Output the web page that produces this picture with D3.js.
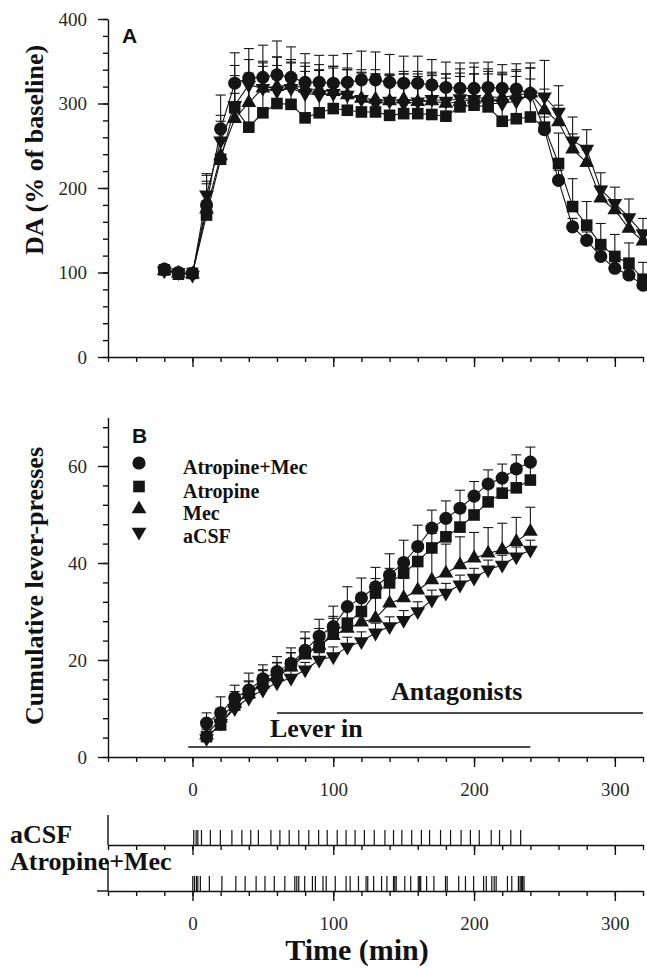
<!DOCTYPE html>
<html>
<head>
<meta charset="utf-8">
<script src="https://cdn.jsdelivr.net/npm/d3@7"></script>
<style>
body { margin: 0; background: #fff; }
svg text { font-family: "Liberation Serif", "Times New Roman", serif; }
.axis path, .axis line { stroke: #111; stroke-width: 1.4; }
.axis text { font-size: 19px; fill: #2a2a2a; font-family: "Liberation Serif", "Times New Roman", serif; }
.title { font-weight: bold; font-size: 26px; fill: #111; }
.legend { font-weight: bold; font-size: 20px; fill: #111; }
.panel-label { font-family: "Liberation Sans", Arial, sans-serif !important; font-weight: bold; font-size: 21px; fill: #111; }
.mark { fill: #151515; }
.conn { fill: none; stroke: #151515; stroke-width: 1.1; }
.err { stroke: #151515; stroke-width: 1.1; }
.event { stroke: #111; stroke-width: 1.2; }
</style>
</head>
<body>
<svg class="scene"></svg>
<script>

//
// data
//

// panel A: DA, % of baseline
var time_da = [-20, -10, 0, 10, 20, 30, 40, 50, 60, 70, 80, 90, 100, 110, 120, 130, 140, 150,
    160, 170, 180, 190, 200, 210, 220, 230, 240, 250, 260, 270, 280, 290, 300, 310, 320];

var da_atr_mec = [104, 100, 99, 180, 270, 324, 330, 331, 334, 331, 325, 325, 324, 325, 328, 328, 325, 324,
    324, 322, 319, 318, 318, 319, 318, 317, 312, 269, 209, 154, 138, 119, 105, 97, 85];
var da_atr_mec_err = [5, 4, 4, 35, 40, 36, 35, 38, 40, 36, 34, 32, 33, 34, 34, 33, 33, 32,
    32, 30, 30, 30, 30, 30, 28, 30, 30, 15, 12, 10, 10, 8, 8, 7, 7];

var da_atr = [103, 98, 99, 168, 234, 295, 272, 289, 300, 299, 283, 289, 294, 292, 290, 290, 286, 288,
    288, 287, 285, 296, 298, 296, 279, 282, 284, 272, 229, 178, 156, 133, 119, 111, 92];
var da_atr_err = [4, 3, 3, 40, 45, 50, 60, 55, 55, 50, 55, 50, 50, 50, 50, 50, 48, 50,
    50, 48, 50, 45, 45, 45, 55, 50, 45, 35, 36, 33, 28, 25, 26, 24, 20];

var da_mec = [102, 99, 98, 175, 238, 282, 301, 318, 320, 322, 318, 316, 314, 310, 306, 305, 303, 305,
    302, 303, 300, 302, 305, 308, 307, 310, 312, 292, 278, 246, 230, 188, 174, 152, 137];
var da_mec_err = [4, 3, 3, 30, 35, 30, 35, 30, 35, 30, 30, 30, 30, 30, 30, 30, 30, 30,
    30, 30, 30, 30, 30, 30, 30, 30, 30, 25, 20, 18, 15, 14, 12, 14, 12];

var da_acsf = [102, 100, 97, 192, 256, 298, 322, 318, 315, 318, 312, 310, 312, 310, 305, 300, 303, 300,
    302, 305, 303, 306, 305, 300, 300, 303, 310, 308, 290, 256, 246, 198, 182, 165, 146];
var da_acsf_err = [4, 3, 3, 25, 30, 35, 30, 32, 30, 30, 32, 30, 30, 30, 32, 35, 32, 35,
    33, 32, 32, 30, 30, 35, 35, 35, 38, 43, 31, 28, 23, 20, 19, 22, 18];

// panel B: cumulative lever-presses
var time_lp = [10, 20, 30, 40, 50, 60, 70, 80, 90, 100, 110, 120,
    130, 140, 150, 160, 170, 180, 190, 200, 210, 220, 230, 240];

var lp_atr_mec = [7.0, 9.1, 12.2, 13.8, 16.1, 17.6, 19.3, 22.0, 24.9, 26.9, 31.0, 32.8,
    35.1, 37.5, 40.1, 43.4, 47.2, 49.2, 51.3, 53.8, 56.3, 57.5, 59.4, 60.8];
var lp_atr_mec_err = [2.1, 3.3, 2.6, 3.5, 2.9, 3.1, 3.2, 3.8, 3.5, 4.2, 4.1, 4.1,
    4.0, 4.4, 4.6, 4.4, 3.7, 3.6, 3.7, 3.0, 2.9, 2.9, 2.9, 3.1];

var lp_atr = [4.2, 6.6, 10.7, 13.2, 15.3, 16.9, 19.0, 21.4, 22.7, 25.6, 27.6, 30.0,
    33.8, 35.9, 37.9, 40.3, 43.1, 45.4, 47.4, 49.9, 52.6, 54.4, 55.5, 57.1];
var lp_atr_err = [1.5, 2, 2, 2.5, 2.5, 2.5, 2.5, 3, 3, 3, 3, 3,
    3, 3, 3, 3, 3, 3, 3, 3, 3, 3, 3, 3];

var lp_mec = [4.5, 8.0, 11.0, 13.0, 15.0, 16.5, 18.5, 21.0, 23.0, 25.0, 26.5, 27.8,
    28.6, 31.7, 32.8, 34.4, 36.5, 37.9, 39.6, 41.0, 42.0, 42.7, 44.4, 46.5];
var lp_mec_err = [1.5, 2, 2.5, 2.5, 3, 3, 3, 3.5, 3.5, 4, 4.5, 5,
    5, 5, 5.5, 6, 6.5, 6, 5.8, 5.3, 5.3, 5.5, 5, 5];

var lp_acsf = [3.8, 7.0, 10.0, 12.2, 13.8, 15.3, 16.3, 18.0, 20.0, 20.7, 22.7, 23.8,
    25.6, 26.9, 28.2, 30.0, 32.4, 33.8, 35.5, 36.9, 38.6, 39.6, 41.3, 42.7];
var lp_acsf_err = [1, 1.5, 1.5, 1.5, 1.5, 1.5, 1.5, 1.5, 1.5, 2, 2, 2,
    2, 2, 2, 2, 2, 2, 2, 2, 2, 2, 2, 2];

// raster: single lever-press times (min)
var events_acsf = [0.9, 2.6, 3.8, 6.4, 12.7, 19.8, 28.0, 35.1, 41.4, 46.8, 55.7, 62.1, 68.7,
    75.5, 82.6, 89.6, 95.7, 102.8, 109.1, 115.5, 122.1, 129.1, 136.7, 142.8, 148.7, 155.7,
    162.6, 168.4, 176.2, 183.3, 190.8, 197.4, 203.7, 212.2, 218.1, 226.1, 233.1];
var events_atr_mec = [0.2, 1.4, 2.8, 3.8, 5.6, 12.0, 20.9, 30.8, 37.4, 45.2, 51.5, 58.1, 65.6,
    72.7, 74.1, 75.5, 79.7, 85.2, 87.3, 92.7, 95.0, 101.4, 109.1, 112.0, 117.9, 123.3, 124.5,
    128.7, 134.3, 138.1, 142.8, 143.7, 144.7, 150.8, 155.0, 160.4, 161.4, 162.1, 166.3, 171.5,
    179.7, 180.9, 189.1, 193.9, 199.7, 206.8, 208.7, 212.6, 214.3, 215.7, 223.7, 226.8,
    231.5, 232.7, 233.6, 234.5, 235.5];

var group_names = ["Atropine+Mec", "Atropine", "Mec", "aCSF"];
var time_major = [0, 100, 200, 300];
var lever_in = [-3, 240];
var antagonists = [60, 320];

//
// scene
//

var width = 647, height = 972;

var scene = d3.select(".scene")
    .attr("width", width)
    .attr("height", height);

var x = d3.scaleLinear().domain([-60, 320]).range([108, 643]);
var y_da = d3.scaleLinear().domain([0, 400]).range([357, 19]);
var y_lp = d3.scaleLinear().domain([0, 70]).range([757, 417.5]);

// symbol per group
var shapes = [
    { type: d3.symbolCircle, size: 135, rot: 0 },
    { type: d3.symbolSquare, size: 135, rot: 0 },
    { type: d3.symbolTriangle, size: 95, rot: 0 },
    { type: d3.symbolTriangle, size: 95, rot: 180 }
];

// d3 puts sans-serif 10px on axis groups, drop it so the css font is used
function clean_axis(g) {
    g.attr("font-family", null).attr("font-size", null);
    return g;
}

function x_axis(y_pos, labels) {
    clean_axis(scene.append("g")
        .attr("class", "axis")
        .attr("transform", "translate(0," + y_pos + ")")
        .call(d3.axisBottom(x)
            .tickValues(d3.range(-60, 321, 20))
            .tickSize(5).tickSizeOuter(0)
            .tickFormat("")));
    var major = clean_axis(scene.append("g")
        .attr("class", "axis")
        .attr("transform", "translate(0," + y_pos + ")")
        .call(d3.axisBottom(x)
            .tickValues(time_major)
            .tickSize(10).tickSizeOuter(0)
            .tickPadding(16)
            .tickFormat(labels ? d3.format("d") : "")));
    major.select(".domain").remove();
}

function y_axis(scale, minor_step, major_step) {
    var top = scale.domain()[1];
    clean_axis(scene.append("g")
        .attr("class", "axis")
        .attr("transform", "translate(108,0)")
        .call(d3.axisLeft(scale)
            .tickValues(d3.range(0, top + 0.01, minor_step))
            .tickSize(5).tickSizeOuter(0)
            .tickFormat("")));
    var major = clean_axis(scene.append("g")
        .attr("class", "axis")
        .attr("transform", "translate(108,0)")
        .call(d3.axisLeft(scale)
            .tickValues(d3.range(0, top + 0.01, major_step))
            .tickSize(10).tickSizeOuter(0)
            .tickPadding(11)));
    major.select(".domain").remove();
}

function draw_series(times, means, errs, scale, shape) {
    var pts = times.map(function (t, i) {
        return { t: t, m: means[i], e: errs[i] };
    });
    var g = scene.append("g");
    g.append("path")
        .attr("class", "conn")
        .attr("d", d3.line()
            .x(function (d) { return x(d.t); })
            .y(function (d) { return scale(d.m); })(pts));
    var bars = g.selectAll("g.bar")
        .data(pts)
        .enter().append("g");
    bars.append("line")
        .attr("class", "err")
        .attr("x1", function (d) { return x(d.t); })
        .attr("x2", function (d) { return x(d.t); })
        .attr("y1", function (d) { return scale(d.m); })
        .attr("y2", function (d) { return scale(d.m + d.e); });
    bars.append("line")
        .attr("class", "err")
        .attr("x1", function (d) { return x(d.t) - 5; })
        .attr("x2", function (d) { return x(d.t) + 5; })
        .attr("y1", function (d) { return scale(d.m + d.e); })
        .attr("y2", function (d) { return scale(d.m + d.e); });
    g.selectAll("path.mark")
        .data(pts)
        .enter().append("path")
        .attr("class", "mark")
        .attr("d", d3.symbol().type(shape.type).size(shape.size))
        .attr("transform", function (d) {
            return "translate(" + x(d.t) + "," + scale(d.m) + ") rotate(" + shape.rot + ")";
        });
}

//
// panel A
//

x_axis(357, false);
y_axis(y_da, 20, 100);

var da_sets = [
    [da_acsf, da_acsf_err, 3],
    [da_mec, da_mec_err, 2],
    [da_atr, da_atr_err, 1],
    [da_atr_mec, da_atr_mec_err, 0]
];
da_sets.forEach(function (s) {
    draw_series(time_da, s[0], s[1], y_da, shapes[s[2]]);
});

scene.append("text")
    .attr("class", "panel-label")
    .attr("x", 122).attr("y", 43)
    .text("A");

scene.append("text")
    .attr("class", "title")
    .attr("text-anchor", "middle")
    .attr("transform", "translate(43,150) rotate(-90)")
    .text("DA (% of baseline)");

//
// panel B
//

x_axis(757, true);
y_axis(y_lp, 4, 20);

var lp_sets = [
    [lp_acsf, lp_acsf_err, 3],
    [lp_mec, lp_mec_err, 2],
    [lp_atr, lp_atr_err, 1],
    [lp_atr_mec, lp_atr_mec_err, 0]
];
lp_sets.forEach(function (s) {
    draw_series(time_lp, s[0], s[1], y_lp, shapes[s[2]]);
});

scene.append("text")
    .attr("class", "panel-label")
    .attr("x", 132).attr("y", 443)
    .text("B");

// legend
var legend_y = [463, 486.5, 509, 532];
group_names.forEach(function (name, i) {
    scene.append("path")
        .attr("class", "mark")
        .attr("d", d3.symbol().type(shapes[i].type).size(shapes[i].size))
        .attr("transform", "translate(139," + legend_y[i] + ") rotate(" + shapes[i].rot + ")");
    scene.append("text")
        .attr("class", "legend")
        .attr("x", 183)
        .attr("y", legend_y[i] + 11)
        .text(name);
});

// treatment bars
scene.append("line")
    .attr("stroke", "#111").attr("stroke-width", 1.6)
    .attr("x1", x(lever_in[0])).attr("x2", x(lever_in[1]))
    .attr("y1", 747).attr("y2", 747);
scene.append("text")
    .attr("class", "title")
    .attr("x", 270).attr("y", 737)
    .text("Lever in");
scene.append("line")
    .attr("stroke", "#111").attr("stroke-width", 1.6)
    .attr("x1", x(antagonists[0])).attr("x2", x(antagonists[1]))
    .attr("y1", 713).attr("y2", 713);
scene.append("text")
    .attr("class", "title")
    .attr("x", 391).attr("y", 700)
    .text("Antagonists");

scene.append("text")
    .attr("class", "title")
    .attr("text-anchor", "middle")
    .attr("transform", "translate(43,586) rotate(-90)")
    .text("Cumulative lever-presses");

//
// raster
//

var rows = [
    { name: "aCSF", base: 845, events: events_acsf, label_y: 843, labels: false },
    { name: "Atropine+Mec", base: 891, events: events_atr_mec, label_y: 870, labels: true }
];

rows.forEach(function (r) {
    x_axis(r.base, r.labels);
    scene.append("line")
        .attr("stroke", "#111").attr("stroke-width", 1.4)
        .attr("x1", 108).attr("x2", 108)
        .attr("y1", r.base - 30).attr("y2", r.base);
    scene.selectAll(null)
        .data(r.events)
        .enter().append("line")
        .attr("class", "event")
        .attr("x1", function (d) { return x(d); })
        .attr("x2", function (d) { return x(d); })
        .attr("y1", r.base)
        .attr("y2", r.base - 15);
    scene.append("text")
        .attr("class", "title")
        .attr("x", 10).attr("y", r.label_y)
        .text(r.name);
});

scene.append("line")
    .attr("stroke", "#111").attr("stroke-width", 1.4)
    .attr("x1", 97).attr("x2", 108)
    .attr("y1", 891).attr("y2", 891);

scene.append("text")
    .attr("class", "title")
    .attr("text-anchor", "middle")
    .style("font-size", "30px")
    .attr("x", 357).attr("y", 960)
    .text("Time (min)");

</script>
</body>
</html>
